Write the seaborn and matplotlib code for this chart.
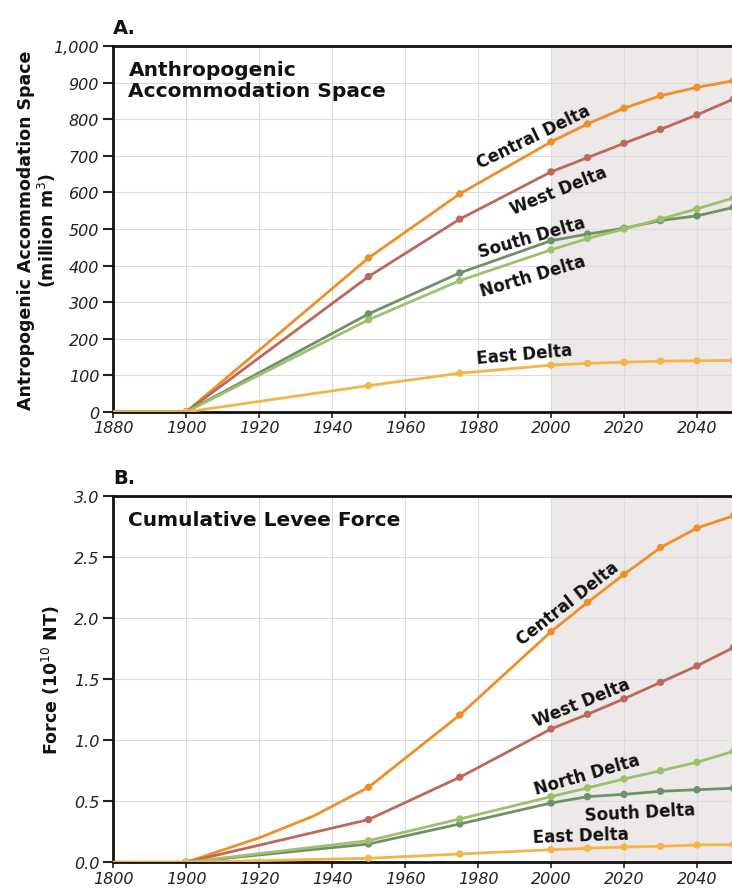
import matplotlib
matplotlib.use("Agg")
import matplotlib.pyplot as plt
import seaborn as sns
import pandas as pd

# ---------------- data ----------------
years = [1880, 1900, 1950, 1975, 2000, 2010, 2020, 2030, 2040, 2050]
marker_years = [1900, 1950, 1975, 2000, 2010, 2020, 2030, 2040, 2050]

deltas = ["Central Delta", "West Delta", "South Delta", "North Delta", "East Delta"]
colors = {"Central Delta": "#F08E28", "West Delta": "#BF6759",
          "South Delta": "#6F9168", "North Delta": "#9DC06C", "East Delta": "#F6B447"}

# Panel A: anthropogenic accommodation space (million m3)
a_central = [0, 0, 421, 596, 738, 787, 830, 864, 887, 905]
a_west    = [0, 0, 370, 527, 656, 695, 734, 772, 812, 855]
a_south   = [0, 0, 268, 380, 468, 486, 502, 523, 536, 559]
a_north   = [0, 0, 252, 359, 443, 474, 500, 527, 555, 585]
a_east    = [0, 0, 72, 106, 128, 133, 136, 139, 140, 141]

# Panel B: cumulative levee force (10^10 NT)
b_years_central = [1880, 1900, 1920, 1935, 1950, 1975, 2000, 2010, 2020, 2030, 2040, 2050]
b_central = [0, 0, 0.20, 0.38, 0.615, 1.207, 1.89, 2.13, 2.36, 2.58, 2.74, 2.84]
b_west    = [0, 0, 0.35, 0.697, 1.093, 1.213, 1.34, 1.475, 1.61, 1.76]
b_south   = [0, 0, 0.15, 0.314, 0.486, 0.538, 0.557, 0.582, 0.595, 0.607]
b_north   = [0, 0, 0.177, 0.355, 0.538, 0.61, 0.683, 0.75, 0.82, 0.91]
b_east    = [0, 0, 0.033, 0.068, 0.103, 0.115, 0.125, 0.131, 0.142, 0.145]

a_yticks = [0, 100, 200, 300, 400, 500, 600, 700, 800, 900, 1000]
a_yticklabels = ["0", "100", "200", "300", "400", "500", "600", "700", "800", "900", "1,000"]
b_yticks = [0.0, 0.5, 1.0, 1.5, 2.0, 2.5, 3.0]
b_yticklabels = ["0.0", "0.5", "1.0", "1.5", "2.0", "2.5", "3.0"]
xticks = [1880, 1900, 1920, 1940, 1960, 1980, 2000, 2020, 2040]
a_xticklabels = ["1880", "1900", "1920", "1940", "1960", "1980", "2000", "2020", "2040"]
b_xticklabels = ["1800", "1900", "1920", "1940", "1960", "1980", "2000", "2020", "2040"]

a_series = {"Central Delta": (years, a_central), "West Delta": (years, a_west),
            "South Delta": (years, a_south), "North Delta": (years, a_north),
            "East Delta": (years, a_east)}
b_series = {"Central Delta": (b_years_central, b_central), "West Delta": (years, b_west),
            "South Delta": (years, b_south), "North Delta": (years, b_north),
            "East Delta": (years, b_east)}

# label placement: (x, y, rotation)
a_labels = {"Central Delta": (1995.3, 752, 26), "West Delta": (2002, 607, 22),
            "South Delta": (1994.8, 478, 16), "North Delta": (1995, 372, 16.5),
            "East Delta": (1992.6, 158, 5)}
b_labels = {"Central Delta": (2004.5, 2.125, 38), "West Delta": (2008.5, 1.31, 22),
            "North Delta": (2010, 0.72, 16), "South Delta": (2024.4, 0.415, 3),
            "East Delta": (2008.1, 0.218, 2)}

# ---------------- style ----------------
sns.set_theme(style="white")
plt.rcParams["font.family"] = ["DejaVu Sans"]

fig = plt.figure(figsize=(7.32, 8.95), dpi=100)
axA = fig.add_axes([113 / 732, 1 - 413 / 895, 1 - 113 / 732, 366 / 895])
axB = fig.add_axes([113 / 732, 1 - 863.3 / 895, 1 - 113 / 732, 366 / 895])

XMAX = 1880 + (732 - 113) / 3.65


def draw(ax, series, labels, ylim, yticks, yticklabels, xticklabels, title, letter, ylabel):
    ax.axvspan(2000, 2060, color="#EDE9E8", zorder=0.2, lw=0)
    for name in deltas:
        xs, ys = series[name]
        df = pd.DataFrame({"year": xs, "value": ys})
        sns.lineplot(data=df, x="year", y="value", ax=ax, color=colors[name],
                     linewidth=2.0, zorder=3)
        dm = df[df["year"].isin(marker_years)]
        sns.scatterplot(data=dm, x="year", y="value", ax=ax, color=colors[name],
                        s=28, edgecolor="none", zorder=4)
    for name, (x, y, r) in labels.items():
        ax.text(x, y, name, rotation=r, ha="center", va="center", fontsize=12,
                fontweight="bold", color="#111111", zorder=5, rotation_mode="anchor")
    ax.set_xlim(1880, XMAX)
    ax.set_ylim(*ylim)
    ax.set_xticks(xticks)
    ax.set_xticklabels(xticklabels, fontstyle="italic", fontsize=11.5, color="#222222")
    ax.set_yticks(yticks)
    ax.set_yticklabels(yticklabels, fontstyle="italic", fontsize=11.5, color="#222222")
    ax.set_xlabel("")
    ax.set_ylabel(ylabel, fontsize=12.5, fontweight="bold", color="#111111",
                  linespacing=1.05)
    ax.grid(True, color="#DCDCDC", linewidth=0.8)
    ax.set_axisbelow(True)
    for s in ["left", "top", "bottom"]:
        ax.spines[s].set_visible(True)
        ax.spines[s].set_color("#111111")
        ax.spines[s].set_linewidth(2.0)
    ax.spines["right"].set_visible(False)
    ax.tick_params(axis="y", direction="out", length=7, width=1.5, color="#222222", pad=3, left=True)
    ax.tick_params(axis="x", direction="out", length=4, width=1.2, color="#222222", pad=2, bottom=True)
    ax.text(0.025, 0.962, title, transform=ax.transAxes, ha="left", va="top",
            fontsize=14.5, fontweight="bold", color="#111111", linespacing=1.12, zorder=6)
    ax.text(0.0, 1.025, letter, transform=ax.transAxes, ha="left", va="bottom",
            fontsize=14, fontweight="bold", color="#111111")


draw(axA, a_series, a_labels, (0, 1000), a_yticks, a_yticklabels, a_xticklabels,
     "Anthropogenic\nAccommodation Space", "A.",
     "Antropogenic Accommodation Space\n(million m$^3$)")
draw(axB, b_series, b_labels, (0, 3.0), b_yticks, b_yticklabels, b_xticklabels,
     "Cumulative Levee Force", "B.", "Force (10$^{10}$ NT)")
axA.yaxis.set_label_coords(-0.089, 0.5)
axB.yaxis.set_label_coords(-0.082, 0.5)

fig.savefig("out.png", dpi=100)
